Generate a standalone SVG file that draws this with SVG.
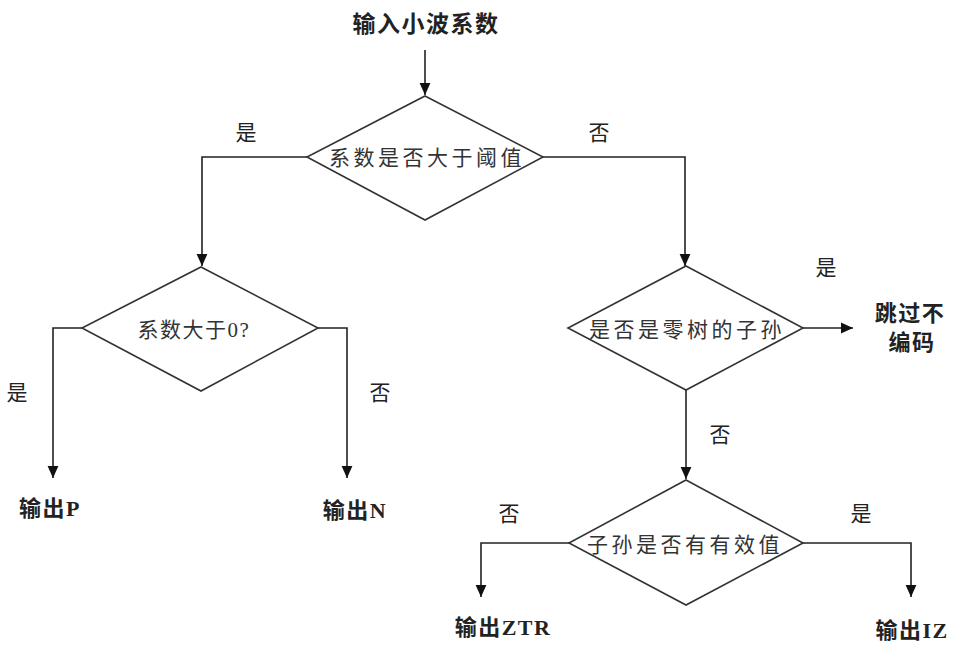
<svg xmlns="http://www.w3.org/2000/svg" width="960" height="648" viewBox="0 0 960 648">
<style>
.shape{fill:#fff;stroke:#333;stroke-width:1.6}
.line{fill:none;stroke:#222;stroke-width:1.6}
.dt{font-family:"Noto Sans CJK SC","Liberation Sans",sans-serif;font-size:21px;fill:#333;text-anchor:middle;letter-spacing:3.5px}
.lbl{font-family:"Noto Sans CJK SC",sans-serif;font-size:21px;fill:#222;text-anchor:middle}
.out{font-family:"Liberation Serif","Noto Sans CJK SC",serif;font-size:22px;font-weight:bold;fill:#222;text-anchor:middle;letter-spacing:1.5px}
</style>
<defs>
<marker id="arr" viewBox="0 0 10 10" refX="10" refY="5" markerWidth="12" markerHeight="12" markerUnits="userSpaceOnUse" orient="auto">
<path d="M0,0.5 L10,5 L0,9.5 Z" fill="#111"/>
</marker>
</defs>
<rect width="960" height="648" fill="#fff"/>
<g id="connectors">
<path class="line" d="M425,50 V95" marker-end="url(#arr)"/>
<path class="line" d="M307,157 H202 V266" marker-end="url(#arr)"/>
<path class="line" d="M543,157 H685 V266" marker-end="url(#arr)"/>
<path class="line" d="M82,328 H53 V478" marker-end="url(#arr)"/>
<path class="line" d="M318,328 H347 V478" marker-end="url(#arr)"/>
<path class="line" d="M803,328 H853" marker-end="url(#arr)"/>
<path class="line" d="M686,390 V479" marker-end="url(#arr)"/>
<path class="line" d="M569,543 H481 V597" marker-end="url(#arr)"/>
<path class="line" d="M803,543 H911 V597" marker-end="url(#arr)"/>
<text class="lbl" x="246" y="140">是</text>
<text class="lbl" x="599" y="140">否</text>
<text class="lbl" x="17" y="400">是</text>
<text class="lbl" x="380" y="400">否</text>
<text class="lbl" x="826" y="275">是</text>
<text class="lbl" x="720" y="442">否</text>
<text class="lbl" x="509" y="521">否</text>
<text class="lbl" x="861" y="521">是</text>
</g>
<g id="start"><text class="out" x="426" y="32" style="font-size:23px">输入小波系数</text></g>
<g id="d1"><polygon class="shape" points="425,96 543,157 425,220 307,157"/><text class="dt" x="427" y="165">系数是否大于阈值</text></g>
<g id="d2"><polygon class="shape" points="201,267 318,328 201,391 82,328"/><text class="dt" x="194" y="337" style="letter-spacing:1.5px">系数大于<tspan font-family="Liberation Serif">0?</tspan></text></g>
<g id="d3"><polygon class="shape" points="686,266 803,328 686,390 568,328"/><text class="dt" x="687" y="337">是否是零树的子孙</text></g>
<g id="d4"><polygon class="shape" points="686,480 803,543 686,605 569,543"/><text class="dt" x="685" y="552">子孙是否有有效值</text></g>
<g id="outP"><text class="out" x="50" y="516">输出P</text></g>
<g id="outN"><text class="out" x="355" y="518">输出N</text></g>
<g id="skip"><text class="out" x="910" y="321">跳过不</text><text class="out" x="912" y="350">编码</text></g>
<g id="outZTR"><text class="out" x="503" y="635">输出ZTR</text></g>
<g id="outIZ"><text class="out" x="912" y="638">输出IZ</text></g>
</svg>
